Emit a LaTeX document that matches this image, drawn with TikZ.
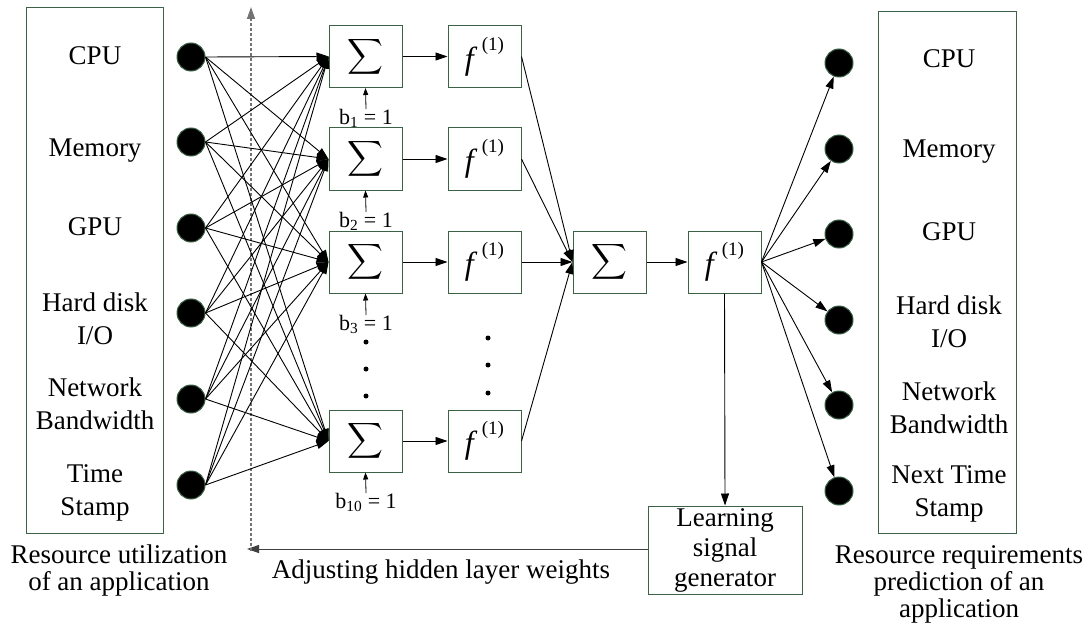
\documentclass[tikz,border=0pt]{standalone}
\usepackage{fontspec}
\usepackage{amsmath}
\setmainfont{Liberation Serif}
\usetikzlibrary{arrows.meta}
\definecolor{bgreen}{HTML}{3B6147}
\newcommand\sumsym{{\fontsize{24.5}{24.5}\selectfont$\displaystyle\sum$}}
\newcommand\fone{{\fontsize{32}{32}\selectfont\itshape f}\hspace{8pt}\raisebox{19pt}{\fontsize{19}{19}\selectfont(1)}}
\begin{document}
\begin{tikzpicture}[x=1pt,y=-1pt,
  font=\fontsize{27}{33}\selectfont,
  >={Triangle[length=12pt,width=8pt]},
  line width=1pt,
  frame/.style={draw=bgreen, fill=white, inner sep=0pt, line width=1pt},
  box/.style={frame, minimum width=73pt, minimum height=62pt},
  neuron/.style={circle, fill=black, draw=bgreen, line width=1pt, minimum size=28pt, inner sep=0pt},
  lbl/.style={align=center, anchor=base, inner sep=0pt},
  blbl/.style={font=\fontsize{22}{22}\selectfont, inner sep=0pt, anchor=north},
  dotn/.style={circle, fill=black, minimum size=5pt, inner sep=0pt},
  wire/.style={->, line width=0.9pt}]
\useasboundingbox (0,0) rectangle (1091,639);

% side frames
\node[frame, minimum width=137pt, minimum height=525pt] (lbox) at (94.5,270.5) {};
\node[frame, minimum width=138pt, minimum height=521pt] (rbox) at (947,272.5) {};

% input labels (anchor = baseline of last line)
\node[lbl] (lcpu) at (95,65) {CPU};
\node[lbl] (lmem) at (95,157) {Memory};
\node[lbl] (lgpu) at (95,235) {GPU};
\node[lbl] (lhd)  at (95,344) {Hard disk\\I/O};
\node[lbl] (lnet) at (95,429) {Network\\Bandwidth};
\node[lbl] (lts)  at (95,515) {Time\\Stamp};

% output labels
\node[lbl] (rcpu) at (949,68) {CPU};
\node[lbl] (rmem) at (949,158) {Memory};
\node[lbl] (rgpu) at (949,240) {GPU};
\node[lbl] (rhd)  at (949,347) {Hard disk\\I/O};
\node[lbl] (rnet) at (949,433) {Network\\Bandwidth};
\node[lbl] (rts)  at (949,516) {Next Time\\Stamp};

% captions
\node[lbl, font=\fontsize{27}{27}\selectfont] (lcap) at (119,590) {Resource utilization\\of an application};
\node[lbl] (adj) at (441,578) {Adjusting hidden layer weights};
\node[lbl, font=\fontsize{27}{27}\selectfont] (rcap) at (959,617) {Resource requirements\\prediction of an\\application};

% input neurons
\foreach \i/\y in {1/57,2/142,3/228,4/313,5/399,6/485}
  \node[neuron] (in\i) at (191,\y) {};
% output neurons
\foreach \i/\y in {1/63,2/149,3/234,4/320,5/405,6/491}
  \node[neuron] (out\i) at (839,\y) {};

% bias labels (drawn before boxes so boxes overlap them)
\node[blbl] (b1)  at (366,109) {b\textsubscript{1} = 1};
\node[blbl] (b2)  at (366,212) {b\textsubscript{2} = 1};
\node[blbl] (b3)  at (366,315) {b\textsubscript{3} = 1};
\node[blbl] (b10) at (366,493) {b\textsubscript{10} = 1};

% hidden layer
\foreach \i/\y in {1/56.5,2/159,3/262,10/441}{
  \node[box] (s\i) at (365.5,\y) {\sumsym};
  \node[box] (f\i) at (484.5,\y) {\fone};
}
% output layer
\node[box] (so) at (609.5,262) {\sumsym};
\node[box] (fo) at (724.5,262) {\fone};
\node[frame, minimum width=154pt, minimum height=88pt, align=center,
      font=\fontsize{27}{30}\selectfont] (lsg) at (725,550) {Learning\\signal\\generator};

% dots
\foreach \y in {342,369,396} \node[dotn] (hd\y) at (366,\y) {};
\foreach \y in {338,365,393} \node[dotn] (fd\y) at (488,\y) {};

% feedback
\coordinate (fbend) at (247,549);
\coordinate (dbot) at (251,551);
\coordinate (dtop) at (251,7);
\draw[->, draw=black!75, line width=1pt] (lsg.west |- fbend) -- (fbend);
\draw[->, dashed, draw=black!55, dash pattern=on 3pt off 2pt, line width=1.4pt] (dbot) -- (dtop);

% input -> hidden
\foreach \i in {1,...,6}
  \foreach \j in {1,2,3,10}
    \draw[wire] (in\i.east) -- (s\j.west);

% bias arrows
\foreach \j in {1,2,3,10}
  \draw[->, >={Triangle[length=7pt,width=5pt]}, line width=0.8pt] (b\j.north) -- (s\j.south);

% hidden sum -> f
\foreach \j in {1,2,3,10}
  \draw[wire] (s\j.east) -- (f\j.west);
% f -> output sum
\foreach \j in {1,2,3,10}
  \draw[wire] (f\j.east) -- (so.west);
\draw[wire] (so.east) -- (fo.west);
% output f -> outputs
\foreach \i in {1,...,6}
  \draw[wire] (fo.east) -- (out\i);
\draw[wire] (fo.south) -- (lsg.north);
\end{tikzpicture}
\end{document}
